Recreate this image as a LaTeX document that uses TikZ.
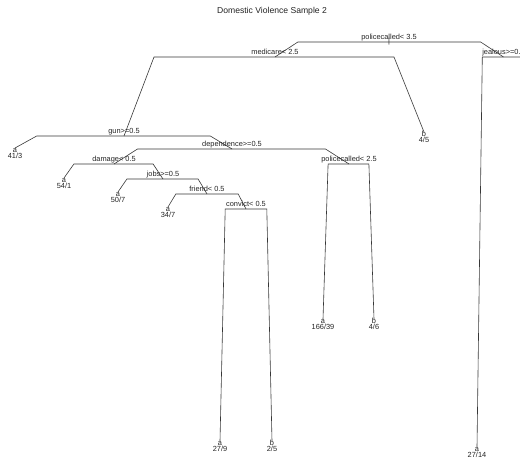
\documentclass[tikz,border=0pt]{standalone}
\usepackage{fontspec}
\setmainfont{Liberation Sans}
\usetikzlibrary{calc}
\definecolor{mydark}{RGB}{35,35,35}
\definecolor{myline}{RGB}{55,55,55}
\tikzset{
  branch/.style={draw=myline, line width=0.6pt},
  splitlab/.style={anchor=base, inner sep=0pt, yshift=2pt, text=mydark,
    font=\fontsize{7.4}{8}\selectfont},
  leaflab/.style={anchor=base, inner sep=0pt, text=mydark,
    font=\fontsize{7.4}{8}\selectfont},
  titlelab/.style={inner sep=0pt, text=mydark, font=\fontsize{8.6}{10}\selectfont}
}
% parent, left child, right child
\newcommand\treesplit[3]{%
  \coordinate (#1-l) at ($(#2)!0.1!(#3)$);
  \coordinate (#1-r) at ($(#3)!0.1!(#2)$);
  \draw[branch] (#2) -- (#1-l |- #1) -- (#1-r |- #1) -- (#3);}
% leaf point, class, counts
\newcommand\treeleaf[3]{%
  \node[leaflab] (#1-cls) at ($(#1)+(0,4.5)$) {#2};
  \node[leaflab] (#1-n) at ($(#1)+(0,11)$) {#3};}

\begin{document}
\begin{tikzpicture}[x=1pt, y=-1pt]
  \useasboundingbox (0,0) rectangle (520,462);
  \clip (0,0) rectangle (520,462);

  % Title
  \node[titlelab] (title) at (272,11) {Domestic Violence Sample 2};

  % Split points
  \coordinate (root) at (389,42);
  \coordinate (medicare) at (275,57);
  \coordinate (jealous) at (503.5,57);
  \coordinate (gun) at (124,136);
  \coordinate (dependence) at (232,149);
  \coordinate (damage) at (114,164);
  \coordinate (police2) at (349,164);
  \coordinate (jobs) at (163,179);
  \coordinate (friend) at (207,194);
  \coordinate (convict) at (246,209);

  % Leaf points
  \coordinate (lf45) at (424,132);
  \coordinate (lf413) at (15,148);
  \coordinate (lf541) at (64,178);
  \coordinate (lf507) at (118,192);
  \coordinate (lf347) at (168,207);
  \coordinate (lf279) at (220,441);
  \coordinate (lf25) at (272,441);
  \coordinate (lf16639) at (323,319);
  \coordinate (lf46) at (374,319);
  \coordinate (lf2714) at (477,447);
  \coordinate (jealousR) at (530,250); % off the page

  % Branches
  \treesplit{root}{medicare}{jealous}
  \treesplit{medicare}{gun}{lf45}
  \treesplit{jealous}{lf2714}{jealousR}
  \treesplit{gun}{lf413}{dependence}
  \treesplit{dependence}{damage}{police2}
  \treesplit{damage}{lf541}{jobs}
  \treesplit{jobs}{lf507}{friend}
  \treesplit{friend}{lf347}{convict}
  \treesplit{convict}{lf279}{lf25}
  \treesplit{police2}{lf16639}{lf46}

  % Split labels
  \node[leaflab, anchor=center] (roottick) at (root) {|};
  \node[splitlab] (root-lab) at (root) {policecalled< 3.5};
  \node[splitlab] (medicare-lab) at (medicare) {medicare< 2.5};
  \node[splitlab] (jealous-lab) at (jealous) {jealous>=0.5};
  \node[splitlab] (gun-lab) at (gun) {gun>=0.5};
  \node[splitlab] (dependence-lab) at (dependence) {dependence>=0.5};
  \node[splitlab] (damage-lab) at (damage) {damage< 0.5};
  \node[splitlab] (police2-lab) at (police2) {policecalled< 2.5};
  \node[splitlab] (jobs-lab) at (jobs) {jobs>=0.5};
  \node[splitlab] (friend-lab) at (friend) {friend< 0.5};
  \node[splitlab] (convict-lab) at (convict) {convict< 0.5};

  % Leaf labels
  \treeleaf{lf45}{b}{4/5}
  \treeleaf{lf413}{a}{41/3}
  \treeleaf{lf541}{a}{54/1}
  \treeleaf{lf507}{a}{50/7}
  \treeleaf{lf347}{a}{34/7}
  \treeleaf{lf279}{a}{27/9}
  \treeleaf{lf25}{b}{2/5}
  \treeleaf{lf16639}{a}{166/39}
  \treeleaf{lf46}{b}{4/6}
  \treeleaf{lf2714}{a}{27/14}
\end{tikzpicture}
\end{document}
